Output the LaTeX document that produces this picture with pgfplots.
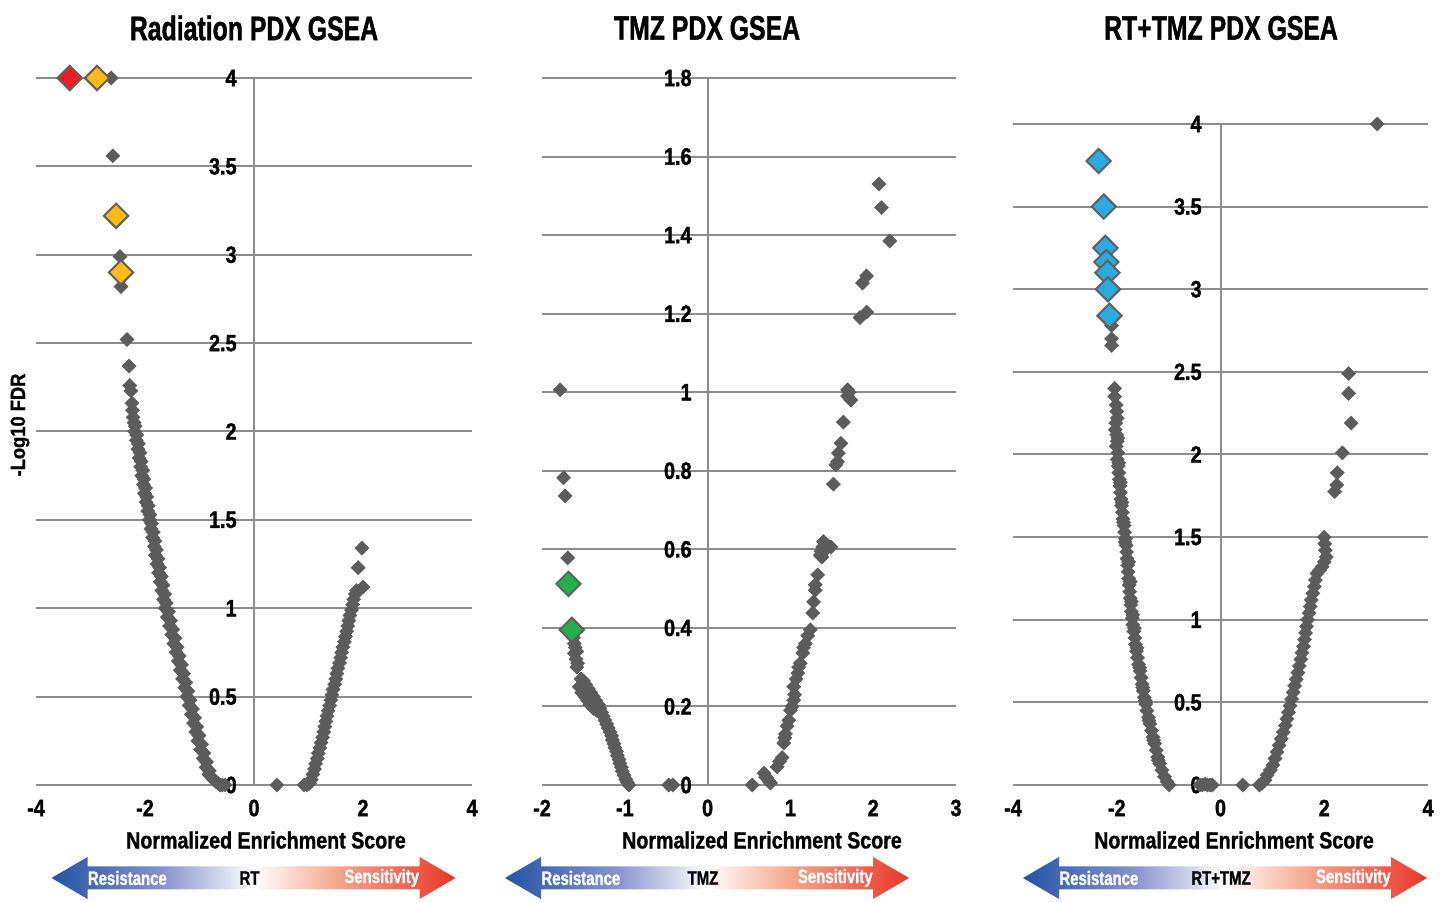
\documentclass[border=0pt]{standalone}
\usepackage{fontspec}
\setmainfont{Liberation Sans}
\newfontfamily\titlef{Liberation Sans}[FakeStretch=0.73, FakeBold=1.2]
\newfontfamily\tickf{Liberation Sans}[FakeStretch=0.84, FakeBold=1.5]
\newfontfamily\labf{Liberation Sans}[FakeStretch=0.84, FakeBold=1.2]
\newfontfamily\arrf{Liberation Sans}[FakeStretch=0.77, FakeBold=1.2]
\newfontfamily\ylabf{Liberation Sans}[FakeStretch=0.89, FakeBold=1.2]
\usepackage{pgfplots}
\pgfplotsset{compat=1.18}

\definecolor{gridgray}{HTML}{8C8C8C}
\definecolor{markgray}{HTML}{5C5C5C}
\definecolor{edgegray}{HTML}{606060}
\definecolor{hlred}{HTML}{ED1C24}
\definecolor{hlyellow}{HTML}{FDBB13}
\definecolor{hlgreen}{HTML}{22B14C}
\definecolor{hlblue}{HTML}{29ABE2}
\definecolor{arrblue}{HTML}{2254A4}
\definecolor{arrmidb}{HTML}{8A94CD}
\definecolor{arrmidr}{HTML}{F5A58C}
\definecolor{arrred}{HTML}{EA3528}

\pgfdeclarehorizontalshading{gseashade}{100bp}{%
  color(0bp)=(arrblue); color(25bp)=(arrblue); color(39bp)=(arrmidb);
  color(50bp)=(white); color(60.5bp)=(arrmidr); color(75bp)=(arrred);
  color(100bp)=(arrred)}

\pgfplotsset{
  gsea/.style={
    scale only axis, clip=false,
    axis line style={draw=none},
    major tick length=0pt,
    ymajorgrids, grid style={gridgray, line width=1pt},
    /pgf/number format/assume math mode=true,
    ticklabel style={font=\tickf\bfseries\fontsize{11.8}{12}\selectfont},
    xticklabel style={anchor=center, inner sep=0pt, yshift=-11.5pt},
    yticklabel style={anchor=east, inner sep=0pt},
  },
  gray pts/.style={only marks, color=markgray, mark=square*, mark size=2.5pt,
    mark options={rotate=45, fill=markgray, draw=markgray, line width=0.2pt}},
  hl pts/.style={only marks, color=edgegray, mark=square*, mark size=4.3pt,
    mark options={rotate=45, fill=#1, draw=edgegray, line width=1pt}},
}

% direction arrow under each panel
\newcommand\gseaarrow[2]{%
  \begin{scope}[shift={(#1,12.5pt)}]
    \shade[shading=gseashade]
      (-101pt,0) -- (-83pt,10.5pt) -- (-83pt,5.75pt) -- (83pt,5.75pt)
      -- (83pt,10.5pt) -- (101pt,0) -- (83pt,-10.5pt) -- (83pt,-5.75pt)
      -- (-83pt,-5.75pt) -- (-83pt,-10.5pt) -- cycle;
    \node[anchor=west, text=white, inner sep=0pt] at (-83pt,0) {Resistance};
    \node[inner sep=0pt] at (-2pt,0) {#2};
    \node[anchor=east, text=white, inner sep=0pt] at (83pt,0) {Sensitivity};
  \end{scope}}

\begin{document}
\begin{tikzpicture}
\path (0,0) rectangle (725pt,451.5pt);

% ---------- Radiation ----------
\begin{axis}[gsea, at={(18pt,59pt)}, anchor=south west,
  width=218pt, height=353.5pt,
  xmin=-4, xmax=4, ymin=0, ymax=4,
  xtick={-4,-2,0,2,4}, ytick={0,0.5,1,1.5,2,2.5,3,3.5,4},
  yticklabel style={xshift=100.5pt}]
  \draw[gridgray, line width=1pt] (axis cs:0,0) -- (axis cs:0,4);
  \addplot[gray pts] coordinates {
    (-2.62,4.00) (-2.59,3.56) (-2.46,2.99) (-2.44,2.82)
    (-2.33,2.52) (-2.29,2.37) (-2.28,2.26) (-2.26,2.23) (-2.24,2.16)
    (-2.23,2.12) (-2.22,2.08) (-2.20,2.05) (-2.18,2.03) (-2.19,2.00)
    (-2.15,1.98) (-2.16,1.95) (-2.12,1.93) (-2.13,1.90) (-2.09,1.88)
    (-2.11,1.85) (-2.07,1.83) (-2.08,1.80) (-2.04,1.78) (-2.06,1.75)
    (-2.02,1.73) (-2.03,1.70) (-1.99,1.68) (-2.01,1.65) (-1.97,1.63)
    (-1.98,1.60) (-1.94,1.58) (-1.95,1.55) (-1.91,1.53) (-1.92,1.50)
    (-1.88,1.48) (-1.89,1.45) (-1.85,1.43) (-1.86,1.40) (-1.82,1.38)
    (-1.83,1.35) (-1.79,1.33) (-1.81,1.30) (-1.76,1.28) (-1.78,1.25)
    (-1.73,1.23) (-1.75,1.20) (-1.70,1.18) (-1.72,1.15) (-1.67,1.13)
    (-1.69,1.10) (-1.64,1.08) (-1.66,1.05) (-1.61,1.03) (-1.63,1.00)
    (-1.57,0.98) (-1.59,0.95) (-1.53,0.93) (-1.55,0.90) (-1.49,0.88)
    (-1.51,0.85) (-1.45,0.83) (-1.47,0.80) (-1.41,0.78) (-1.43,0.75)
    (-1.37,0.73) (-1.39,0.70) (-1.33,0.68) (-1.35,0.65) (-1.29,0.63)
    (-1.31,0.60) (-1.25,0.58) (-1.27,0.55) (-1.21,0.53) (-1.23,0.50)
    (-1.17,0.48) (-1.19,0.45) (-1.13,0.43) (-1.15,0.40) (-1.09,0.38)
    (-1.11,0.35) (-1.05,0.33) (-1.07,0.30) (-1.01,0.28) (-1.03,0.25)
    (-0.96,0.23) (-0.98,0.20) (-0.92,0.18) (-0.93,0.15) (-0.87,0.13)
    (-0.88,0.10) (-0.82,0.08) (-0.83,0.06) (-0.77,0.04) (-0.74,0.03)
    (-0.70,0.02) (-0.66,0.01) (-0.62,0.00) (-0.58,0.00) (-0.53,0.00)
    (0.42,0.00)
    (0.92,0.00) (0.97,0.00) (1.02,0.01) (1.05,0.03) (1.08,0.06)
    (1.11,0.09) (1.13,0.12) (1.16,0.15) (1.18,0.18) (1.21,0.21)
    (1.23,0.24) (1.26,0.27) (1.28,0.30) (1.30,0.33) (1.32,0.36)
    (1.34,0.39) (1.36,0.42) (1.39,0.45) (1.41,0.48) (1.43,0.51)
    (1.45,0.54) (1.48,0.57) (1.50,0.60) (1.52,0.63) (1.54,0.66)
    (1.57,0.69) (1.59,0.72) (1.61,0.75) (1.63,0.78) (1.66,0.81)
    (1.68,0.84) (1.70,0.87) (1.72,0.90) (1.74,0.93) (1.76,0.96)
    (1.79,0.99) (1.81,1.02) (1.83,1.05) (1.86,1.08) (1.88,1.10)
    (2.00,1.12) (1.91,1.23) (1.98,1.34)
  };
  \addplot[hl pts=hlred] coordinates {(-3.38,4.00)};
  \addplot[hl pts=hlyellow] coordinates {(-2.88,4.00) (-2.53,3.22) (-2.44,2.90)};
\end{axis}

% ---------- TMZ ----------
\begin{axis}[gsea, at={(271pt,59pt)}, anchor=south west,
  width=207pt, height=353.5pt,
  xmin=-2, xmax=3, ymin=0, ymax=1.8,
  xtick={-2,-1,0,1,2,3}, ytick={0,0.2,0.4,0.6,0.8,1,1.2,1.4,1.6,1.8},
  yticklabel style={xshift=75pt}]
  \draw[gridgray, line width=1pt] (axis cs:0,0) -- (axis cs:0,1.8);
  \addplot[gray pts] coordinates {
    (-1.78,1.006) (-1.74,0.782) (-1.72,0.736) (-1.69,0.578)
    (-1.62,0.375) (-1.61,0.36) (-1.60,0.35) (-1.61,0.335) (-1.58,0.34)
    (-1.59,0.32) (-1.57,0.31) (-1.58,0.30)
    (-1.53,0.27) (-1.50,0.265) (-1.55,0.25) (-1.47,0.255) (-1.52,0.235)
    (-1.44,0.245) (-1.48,0.225) (-1.41,0.235) (-1.45,0.215) (-1.38,0.225)
    (-1.42,0.205) (-1.35,0.215) (-1.38,0.195) (-1.32,0.205) (-1.34,0.19)
    (-1.30,0.195) (-1.28,0.185) (-1.26,0.175) (-1.24,0.165) (-1.22,0.155)
    (-1.20,0.145) (-1.18,0.135) (-1.16,0.125) (-1.15,0.115) (-1.13,0.105)
    (-1.12,0.095) (-1.10,0.085) (-1.09,0.075) (-1.07,0.065) (-1.06,0.055)
    (-1.04,0.045) (-1.03,0.035) (-1.01,0.025) (-0.99,0.015) (-0.97,0.007)
    (-0.95,0.00) (-0.47,0.00) (-0.42,0.00)
    (0.54,0.00) (0.68,0.03) (0.72,0.018) (0.76,0.005) (0.70,0.02) (0.74,0.01)
    (0.84,0.046) (0.87,0.06) (0.90,0.07) (0.92,0.107) (0.93,0.12) (0.94,0.13)
    (0.96,0.15) (0.98,0.165) (1.00,0.19) (1.02,0.20) (1.04,0.216)
    (1.05,0.23) (1.04,0.25) (1.07,0.27) (1.09,0.285) (1.10,0.30)
    (1.12,0.31) (1.15,0.336) (1.16,0.35) (1.18,0.36) (1.21,0.38)
    (1.24,0.395) (1.27,0.438) (1.28,0.466) (1.30,0.496) (1.30,0.51)
    (1.33,0.535) (1.36,0.585) (1.37,0.595) (1.39,0.606) (1.40,0.62)
    (1.42,0.61) (1.45,0.61) (1.49,0.606) (1.43,0.60) (1.38,0.58)
    (1.52,0.766) (1.55,0.815) (1.57,0.823) (1.58,0.845) (1.61,0.87)
    (1.64,0.924) (1.73,0.98) (1.69,0.99) (1.69,1.006) (1.71,1.00)
    (1.84,1.19) (1.92,1.204) (1.87,1.278) (1.92,1.296) (2.20,1.385)
    (2.10,1.47) (2.07,1.53)
  };
  \addplot[hl pts=hlgreen] coordinates {(-1.68,0.512) (-1.64,0.395)};
\end{axis}

% ---------- RT+TMZ ----------
\begin{axis}[gsea, at={(506.5pt,59pt)}, anchor=south west,
  width=207.5pt, height=330.5pt,
  xmin=-4, xmax=4, ymin=0, ymax=4,
  xtick={-4,-2,0,2,4}, ytick={0,0.5,1,1.5,2,2.5,3,3.5,4},
  yticklabel style={xshift=94.5pt}]
  \draw[gridgray, line width=1pt] (axis cs:0,0) -- (axis cs:0,4);
  \addplot[gray pts] coordinates {
    (-2.10,2.78) (-2.10,2.70) (-2.10,2.66) (-2.04,2.40) (-2.04,2.35)
    (-2.01,2.30) (-2.00,2.26) (-1.99,2.22) (-2.02,2.19) (-2.03,2.15)
    (-2.00,2.12) (-1.99,2.08) (-2.01,2.05) (-1.98,2.01) (-1.99,1.97)
    (-1.97,1.93) (-1.96,1.89) (-1.95,1.85) (-1.94,1.81) (-1.93,1.77)
    (-1.92,1.73) (-1.91,1.69) (-1.89,1.65) (-1.88,1.61) (-1.86,1.57)
    (-1.85,1.53) (-1.83,1.49) (-1.82,1.45) (-1.81,1.41) (-1.80,1.37)
    (-1.79,1.33) (-1.78,1.29) (-1.77,1.25) (-1.76,1.21) (-1.75,1.17)
    (-1.74,1.13) (-1.73,1.09) (-1.72,1.05) (-1.70,1.01) (-1.69,0.97)
    (-1.67,0.93) (-1.65,0.89) (-1.64,0.85) (-1.62,0.81) (-1.60,0.77)
    (-1.58,0.73) (-1.55,0.69) (-1.53,0.65) (-1.51,0.61) (-1.49,0.57)
    (-1.47,0.53) (-1.44,0.49) (-1.42,0.45) (-1.39,0.41) (-1.36,0.37)
    (-1.33,0.33) (-1.30,0.29) (-1.27,0.25) (-1.24,0.21) (-1.21,0.17)
    (-1.17,0.13) (-1.13,0.09) (-1.08,0.05) (-1.03,0.02) (-0.99,0.00)
    (-1.98,2.10) (-1.96,1.95) (-1.93,1.83) (-1.90,1.71) (-1.87,1.59)
    (-1.84,1.47) (-1.77,1.35) (-1.74,1.23) (-1.72,1.11) (-1.69,1.03)
    (-1.66,0.95) (-1.61,0.83) (-1.56,0.71) (-1.50,0.59) (-1.45,0.51)
    (-1.38,0.39) (-1.29,0.27) (-1.20,0.15)
    (-0.40,0.00) (-0.35,0.00) (-0.30,0.005) (-0.25,0.00) (-0.20,0.00)
    (-0.16,0.00) (0.43,0.00)
    (0.75,0.00) (0.80,0.01) (0.86,0.03) (0.90,0.06) (0.96,0.09)
    (1.01,0.12) (1.05,0.16) (1.09,0.20) (1.13,0.24) (1.17,0.28)
    (1.21,0.32) (1.25,0.36) (1.28,0.40) (1.31,0.44) (1.34,0.48)
    (1.37,0.52) (1.40,0.56) (1.43,0.60) (1.46,0.64) (1.49,0.68)
    (1.52,0.72) (1.55,0.76) (1.57,0.80) (1.60,0.84) (1.62,0.88)
    (1.64,0.92) (1.66,0.96) (1.68,1.00) (1.71,1.04) (1.73,1.08)
    (1.75,1.12) (1.78,1.16) (1.81,1.20) (1.83,1.24) (1.86,1.28)
    (1.91,1.30) (1.96,1.32) (2.00,1.35) (2.04,1.38) (2.02,1.42)
    (2.01,1.46) (2.00,1.50)
    (2.20,1.775) (2.24,1.815) (2.25,1.89) (2.35,2.01) (2.52,2.19)
    (2.47,2.37) (2.47,2.49) (3.02,4.00)
  };
  \addplot[hl pts=hlblue] coordinates {
    (-2.35,3.776) (-2.25,3.50) (-2.22,3.25) (-2.20,3.165)
    (-2.18,3.10) (-2.17,3.00) (-2.14,2.84)};
\end{axis}

% titles
\begin{scope}[every node/.style={font=\titlef\bfseries\fontsize{17}{20}\selectfont}]
  \node at (127pt,437.5pt) {Radiation PDX GSEA};
  \node at (353.5pt,437.5pt) {TMZ PDX GSEA};
  \node at (610.5pt,437.5pt) {RT+TMZ PDX GSEA};
\end{scope}
% x labels
\begin{scope}[every node/.style={font=\labf\bfseries\fontsize{11.7}{14}\selectfont}]
  \node at (133pt,31.5pt) {Normalized Enrichment Score};
  \node at (381pt,31.5pt) {Normalized Enrichment Score};
  \node at (617pt,31.5pt) {Normalized Enrichment Score};
\end{scope}
% y label
\node[rotate=90, font=\ylabf\bfseries\fontsize{10.3}{12}\selectfont]
  at (10pt,239pt) {-Log10 FDR};
% arrows
\begin{scope}[font=\arrf\bfseries\fontsize{9.7}{11}\selectfont]
  \gseaarrow{126.75pt}{RT}
  \gseaarrow{353.5pt}{TMZ}
  \gseaarrow{612.5pt}{RT+TMZ}
\end{scope}
\end{tikzpicture}
\end{document}
